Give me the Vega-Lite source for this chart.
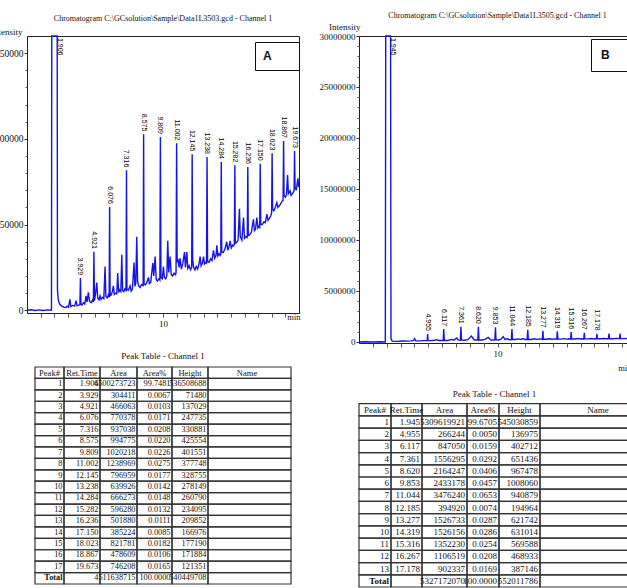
{
  "$schema": "https://vega.github.io/schema/vega-lite/v6.json",
  "background": "white",
  "padding": {"left": -10, "top": 11, "right": 0, "bottom": 0},
  "config": {
    "font": "Liberation Serif",
    "axis": {"labelFont": "Liberation Serif", "titleFont": "Liberation Serif", "labelColor": "#111", "titleColor": "#111"},
    "title": {"font": "Liberation Serif", "fontWeight": "normal", "fontSize": 8, "color": "#111"}
  },
  "datasets": {
    "traceA": [
      {"t":0,"v":0},{"t":0.3,"v":1500},{"t":0.6,"v":-500},{"t":0.9,"v":1000},{"t":1.2,"v":-500},{"t":1.5,"v":1000},{"t":1.8,"v":0},{"t":1.82,"v":2000000},{"t":1.906,"v":536508688,"lab":"1.906"},{"t":2.22,"v":2000000},{"t":2.24,"v":60000},{"t":2.3,"v":30000},{"t":2.4,"v":18000},{"t":2.55,"v":12000},{"t":2.7,"v":9000},{"t":2.85,"v":8000},{"t":2.95,"v":12000},{"t":3.05,"v":9000},{"t":3.16,"v":32000},{"t":3.22,"v":11000},{"t":3.35,"v":14000},{"t":3.5,"v":12000},{"t":3.61,"v":28000},{"t":3.68,"v":13000},{"t":3.8,"v":15000},
      {"t":3.89,"v":16000},{"t":3.929,"v":93700,"lab":"3.929"},{"t":3.97,"v":17000},{"t":4.05,"v":15000},{"t":4.15,"v":22000},{"t":4.25,"v":18000},{"t":4.34,"v":42000},{"t":4.42,"v":24000},{"t":4.51,"v":52000},{"t":4.6,"v":26000},{"t":4.72,"v":22000},{"t":4.82,"v":30000},
      {"t":4.88,"v":24000},{"t":4.921,"v":170400,"lab":"4.921"},{"t":4.96,"v":28000},{"t":5.03,"v":45000},{"t":5.13,"v":81000},{"t":5.2,"v":35000},{"t":5.3,"v":30000},{"t":5.37,"v":42000},{"t":5.45,"v":32000},{"t":5.55,"v":38000},{"t":5.65,"v":34000},{"t":5.74,"v":127600},{"t":5.8,"v":40000},{"t":5.9,"v":36000},{"t":5.98,"v":45000},
      {"t":6.04,"v":38000},{"t":6.076,"v":301500,"lab":"6.076"},{"t":6.11,"v":42000},{"t":6.2,"v":45000},{"t":6.28,"v":55000},{"t":6.35,"v":71000},{"t":6.42,"v":46000},{"t":6.52,"v":50000},{"t":6.6,"v":48000},{"t":6.67,"v":108700},{"t":6.74,"v":52000},{"t":6.82,"v":60000},{"t":6.9,"v":55000},{"t":6.97,"v":161700},{"t":7.03,"v":58000},{"t":7.12,"v":54000},{"t":7.2,"v":62000},
      {"t":7.28,"v":58000},{"t":7.316,"v":408200,"lab":"7.316"},{"t":7.35,"v":60000},{"t":7.45,"v":58000},{"t":7.58,"v":71000},{"t":7.66,"v":56000},{"t":7.75,"v":62000},{"t":7.87,"v":139400},{"t":7.93,"v":70000},{"t":8.0,"v":80000},{"t":8.07,"v":214100},{"t":8.13,"v":85000},{"t":8.22,"v":70000},{"t":8.32,"v":66000},{"t":8.42,"v":75000},
      {"t":8.54,"v":72000},{"t":8.575,"v":513100,"lab":"8.575"},{"t":8.61,"v":76000},{"t":8.7,"v":74000},{"t":8.8,"v":80000},{"t":8.93,"v":95600},{"t":9.0,"v":78000},{"t":9.1,"v":82000},{"t":9.25,"v":137400},{"t":9.32,"v":100000},{"t":9.42,"v":156800},{"t":9.5,"v":90000},{"t":9.6,"v":85000},{"t":9.7,"v":92000},
      {"t":9.77,"v":88000},{"t":9.809,"v":505400,"lab":"9.809"},{"t":9.85,"v":95000},{"t":9.95,"v":92000},{"t":10.03,"v":127600},{"t":10.1,"v":96000},{"t":10.2,"v":92000},{"t":10.28,"v":100000},{"t":10.35,"v":202400},{"t":10.42,"v":110000},{"t":10.52,"v":156800},{"t":10.6,"v":105000},{"t":10.7,"v":100000},{"t":10.82,"v":108000},{"t":10.92,"v":104000},
      {"t":10.96,"v":110000},{"t":11.002,"v":486900,"lab":"11.002"},{"t":11.04,"v":140000},{"t":11.1,"v":150000},{"t":11.18,"v":125000},{"t":11.26,"v":151200},{"t":11.35,"v":120000},{"t":11.45,"v":135000},{"t":11.58,"v":170000},{"t":11.65,"v":125000},{"t":11.75,"v":170000},{"t":11.82,"v":122000},{"t":11.92,"v":130000},{"t":12.02,"v":118000},
      {"t":12.11,"v":125000},{"t":12.145,"v":454900,"lab":"12.145"},{"t":12.18,"v":150000},{"t":12.25,"v":125000},{"t":12.35,"v":118000},{"t":12.45,"v":128000},{"t":12.55,"v":120000},{"t":12.65,"v":135000},{"t":12.73,"v":156800},{"t":12.8,"v":130000},{"t":12.9,"v":138000},{"t":12.98,"v":156800},{"t":13.05,"v":135000},{"t":13.15,"v":140000},
      {"t":13.2,"v":138000},{"t":13.238,"v":447100,"lab":"13.238"},{"t":13.28,"v":142000},{"t":13.38,"v":140000},{"t":13.5,"v":150000},{"t":13.6,"v":145000},{"t":13.71,"v":175000},{"t":13.8,"v":152000},{"t":13.9,"v":160000},{"t":13.96,"v":189600},{"t":14.03,"v":158000},{"t":14.12,"v":165000},{"t":14.2,"v":160000},
      {"t":14.25,"v":165000},{"t":14.284,"v":432500,"lab":"14.284"},{"t":14.32,"v":170000},{"t":14.42,"v":168000},{"t":14.55,"v":178000},{"t":14.69,"v":199700},{"t":14.76,"v":175000},{"t":14.85,"v":185000},{"t":14.94,"v":202400},{"t":15.02,"v":182000},{"t":15.12,"v":190000},{"t":15.2,"v":188000},
      {"t":15.245,"v":192000},{"t":15.282,"v":422800,"lab":"15.282"},{"t":15.32,"v":195000},{"t":15.42,"v":198000},{"t":15.52,"v":205000},{"t":15.62,"v":295700},{"t":15.68,"v":215000},{"t":15.8,"v":205000},{"t":15.92,"v":270400},{"t":15.99,"v":210000},{"t":16.08,"v":215000},{"t":16.18,"v":212000},
      {"t":16.2,"v":214000},{"t":16.236,"v":418000,"lab":"16.236"},{"t":16.27,"v":218000},{"t":16.38,"v":220000},{"t":16.5,"v":228000},{"t":16.65,"v":265500},{"t":16.72,"v":232000},{"t":16.8,"v":236000},{"t":16.9,"v":270400},{"t":16.98,"v":240000},{"t":17.05,"v":245000},
      {"t":17.11,"v":242000},{"t":17.15,"v":427700,"lab":"17.150"},{"t":17.19,"v":250000},{"t":17.3,"v":250000},{"t":17.42,"v":258000},{"t":17.52,"v":255000},{"t":17.64,"v":280100},{"t":17.72,"v":262000},{"t":17.82,"v":268000},{"t":17.92,"v":275000},
      {"t":17.99,"v":285000},{"t":18.023,"v":457800,"lab":"18.023"},{"t":18.06,"v":295000},{"t":18.15,"v":290000},{"t":18.25,"v":300000},{"t":18.37,"v":314100},{"t":18.45,"v":300000},{"t":18.55,"v":305000},{"t":18.65,"v":310000},{"t":18.75,"v":318000},
      {"t":18.83,"v":320000},{"t":18.867,"v":493700,"lab":"18.867"},{"t":18.9,"v":335000},{"t":19.0,"v":330000},{"t":19.08,"v":338000},{"t":19.16,"v":394700},{"t":19.22,"v":340000},{"t":19.35,"v":348100},{"t":19.42,"v":335000},{"t":19.52,"v":340000},{"t":19.6,"v":345000},
      {"t":19.64,"v":350000},{"t":19.673,"v":464600,"lab":"19.673"},{"t":19.71,"v":360000},{"t":19.8,"v":350000},{"t":19.92,"v":385000},{"t":19.97,"v":360000},{"t":20.0,"v":367500}
    ],
    "traceB": [
      {"t":0,"v":0},{"t":0.5,"v":20000},{"t":1.0,"v":0},{"t":1.5,"v":20000},{"t":1.9,"v":0},{"t":1.93,"v":40000000},{"t":1.945,"v":545030859,"lab":"1.945"},{"t":2.28,"v":40000000},{"t":2.31,"v":300000},{"t":2.4,"v":80000},{"t":2.6,"v":60000},{"t":2.9,"v":70000},{"t":3.2,"v":90000},{"t":3.5,"v":80000},{"t":3.75,"v":110000},{"t":3.95,"v":150000},{"t":4.02,"v":325000},{"t":4.1,"v":120000},{"t":4.4,"v":110000},{"t":4.7,"v":130000},
      {"t":4.92,"v":140000},{"t":4.955,"v":780000,"lab":"4.955"},{"t":4.99,"v":150000},{"t":5.2,"v":130000},{"t":5.45,"v":170000},{"t":5.6,"v":230000},{"t":5.75,"v":150000},{"t":5.95,"v":140000},
      {"t":6.08,"v":160000},{"t":6.117,"v":1267000,"lab":"6.117"},{"t":6.16,"v":170000},{"t":6.4,"v":150000},{"t":6.7,"v":250000},{"t":6.85,"v":180000},{"t":7.05,"v":390000},{"t":7.15,"v":200000},
      {"t":7.32,"v":180000},{"t":7.361,"v":1494500,"lab":"7.361"},{"t":7.4,"v":200000},{"t":7.6,"v":170000},{"t":7.85,"v":230000},{"t":8.12,"v":585000},{"t":8.3,"v":220000},{"t":8.45,"v":200000},
      {"t":8.58,"v":210000},{"t":8.62,"v":1494500,"lab":"8.620"},{"t":8.66,"v":220000},{"t":8.9,"v":200000},{"t":9.1,"v":250000},{"t":9.33,"v":455000},{"t":9.5,"v":220000},{"t":9.65,"v":200000},
      {"t":9.81,"v":220000},{"t":9.853,"v":1429600,"lab":"9.853"},{"t":9.89,"v":230000},{"t":10.1,"v":200000},{"t":10.25,"v":280000},{"t":10.41,"v":520000},{"t":10.55,"v":240000},{"t":10.7,"v":330000},{"t":10.85,"v":220000},
      {"t":11.0,"v":230000},{"t":11.044,"v":1267000,"lab":"11.044"},{"t":11.08,"v":260000},{"t":11.3,"v":240000},{"t":11.5,"v":300000},{"t":11.7,"v":250000},{"t":11.85,"v":340000},{"t":12.0,"v":240000},
      {"t":12.14,"v":250000},{"t":12.185,"v":1202000,"lab":"12.185"},{"t":12.22,"v":270000},{"t":12.45,"v":250000},{"t":12.65,"v":320000},{"t":12.85,"v":260000},{"t":13.05,"v":300000},
      {"t":13.24,"v":260000},{"t":13.277,"v":1104700,"lab":"13.277"},{"t":13.31,"v":280000},{"t":13.55,"v":270000},{"t":13.75,"v":320000},{"t":13.95,"v":270000},{"t":14.15,"v":300000},
      {"t":14.28,"v":270000},{"t":14.319,"v":1039700,"lab":"14.319"},{"t":14.36,"v":290000},{"t":14.6,"v":280000},{"t":14.8,"v":330000},{"t":15.0,"v":280000},{"t":15.15,"v":310000},
      {"t":15.28,"v":290000},{"t":15.316,"v":974700,"lab":"15.316"},{"t":15.35,"v":300000},{"t":15.6,"v":290000},{"t":15.8,"v":340000},{"t":16.0,"v":290000},{"t":16.15,"v":320000},
      {"t":16.23,"v":300000},{"t":16.267,"v":909700,"lab":"16.267"},{"t":16.3,"v":310000},{"t":16.55,"v":300000},{"t":16.75,"v":340000},{"t":16.95,"v":300000},{"t":17.08,"v":320000},
      {"t":17.14,"v":310000},{"t":17.178,"v":812000,"lab":"17.178"},{"t":17.21,"v":320000},{"t":17.45,"v":310000},{"t":17.7,"v":340000},{"t":17.9,"v":310000},
      {"t":18.01,"v":320000},{"t":18.05,"v":812000},{"t":18.09,"v":330000},{"t":18.35,"v":320000},{"t":18.6,"v":350000},{"t":18.81,"v":330000},{"t":18.85,"v":812000},{"t":18.89,"v":330000},{"t":19.15,"v":330000},{"t":19.4,"v":350000},{"t":19.56,"v":340000},{"t":19.6,"v":780000},{"t":19.64,"v":340000},{"t":20.0,"v":340000}
    ],
    "tabA": [
      {"p":"1","rt":"1.906","area":"4500273723","pct":"99.7481","ht":"536508688","nm":""},
      {"p":"2","rt":"3.929","area":"304411","pct":"0.0067","ht":"71480","nm":""},
      {"p":"3","rt":"4.921","area":"466063","pct":"0.0103","ht":"137029","nm":""},
      {"p":"4","rt":"6.076","area":"770378","pct":"0.0171","ht":"247735","nm":""},
      {"p":"5","rt":"7.316","area":"937038","pct":"0.0208","ht":"330881","nm":""},
      {"p":"6","rt":"8.575","area":"994775","pct":"0.0220","ht":"425554","nm":""},
      {"p":"7","rt":"9.809","area":"1020218","pct":"0.0226","ht":"401551","nm":""},
      {"p":"8","rt":"11.002","area":"1238969","pct":"0.0275","ht":"377748","nm":""},
      {"p":"9","rt":"12.145","area":"796959","pct":"0.0177","ht":"328755","nm":""},
      {"p":"10","rt":"13.238","area":"639926","pct":"0.0142","ht":"278149","nm":""},
      {"p":"11","rt":"14.284","area":"666273","pct":"0.0148","ht":"260790","nm":""},
      {"p":"12","rt":"15.282","area":"596280","pct":"0.0132","ht":"234095","nm":""},
      {"p":"13","rt":"16.236","area":"501880","pct":"0.0111","ht":"209852","nm":""},
      {"p":"14","rt":"17.150","area":"385224","pct":"0.0085","ht":"166976","nm":""},
      {"p":"15","rt":"18.023","area":"821781","pct":"0.0182","ht":"177190","nm":""},
      {"p":"16","rt":"18.867","area":"478609","pct":"0.0106","ht":"171884","nm":""},
      {"p":"17","rt":"19.673","area":"746208","pct":"0.0165","ht":"121351","nm":""},
      {"p":"Total","rt":"","area":"4511638715","pct":"100.0000","ht":"540449708","nm":""}
    ],
    "tabB": [
      {"p":"1","rt":"1.945","area":"5309619921","pct":"99.6705","ht":"545030859","nm":""},
      {"p":"2","rt":"4.955","area":"266244","pct":"0.0050","ht":"136975","nm":""},
      {"p":"3","rt":"6.117","area":"847050","pct":"0.0159","ht":"402712","nm":""},
      {"p":"4","rt":"7.361","area":"1556295","pct":"0.0292","ht":"651436","nm":""},
      {"p":"5","rt":"8.620","area":"2164247","pct":"0.0406","ht":"967478","nm":""},
      {"p":"6","rt":"9.853","area":"2433178","pct":"0.0457","ht":"1008060","nm":""},
      {"p":"7","rt":"11.044","area":"3476240","pct":"0.0653","ht":"940879","nm":""},
      {"p":"8","rt":"12.185","area":"394920","pct":"0.0074","ht":"194964","nm":""},
      {"p":"9","rt":"13.277","area":"1526733","pct":"0.0287","ht":"621742","nm":""},
      {"p":"10","rt":"14.319","area":"1526156","pct":"0.0286","ht":"631014","nm":""},
      {"p":"11","rt":"15.316","area":"1352230","pct":"0.0254","ht":"569588","nm":""},
      {"p":"12","rt":"16.267","area":"1106519","pct":"0.0208","ht":"468933","nm":""},
      {"p":"13","rt":"17.178","area":"902337","pct":"0.0169","ht":"387146","nm":""},
      {"p":"Total","rt":"","area":"5327172070","pct":"100.0000","ht":"552011786","nm":""}
    ],
    "colsA": [
      {"col":"p","name":"Peak#","start":0,"end":29,"mid":14.5},
      {"col":"rt","name":"Ret.Time","start":29,"end":65,"mid":47},
      {"col":"area","name":"Area","start":65,"end":102,"mid":83.5},
      {"col":"pct","name":"Area%","start":102,"end":137,"mid":119.5},
      {"col":"ht","name":"Height","start":137,"end":173,"mid":155},
      {"col":"nm","name":"Name","start":173,"end":256,"mid":212}
    ],
    "colsB": [
      {"col":"p","name":"Peak#","start":0,"end":32,"mid":16},
      {"col":"rt","name":"Ret.Time","start":32,"end":63,"mid":47.5},
      {"col":"area","name":"Area","start":63,"end":108,"mid":85.5},
      {"col":"pct","name":"Area%","start":108,"end":140,"mid":124},
      {"col":"ht","name":"Height","start":140,"end":181,"mid":160.5},
      {"col":"nm","name":"Name","start":181,"end":271,"mid":239}
    ]
  },
  "concat": [
    {
      "width": 272, "height": 277,
      "title": {"text": "Chromatogram C:\\GCsolution\\Sample\\Data1L3503.gcd - Channel 1", "offset": 4},
      "view": {"stroke": "#222", "strokeWidth": 1},
      "data": {"name": "traceA"},
      "layer": [
        {
          "mark": {"type": "line", "strokeWidth": 1.4},
          "encoding": {
            "x": {"field": "t", "type": "quantitative", "scale": {"domain": [0, 20], "nice": false, "zero": false},
              "axis": {"orient": "bottom", "values": [10], "grid": false, "tickSize": 4, "tickColor": "#555", "domainColor": "#222", "labelFontSize": 9, "labelPadding": 2, "title": "min", "titleX": 273, "titleY": 3, "titleAlign": "right", "titleBaseline": "middle", "titleFontWeight": "normal", "titleFontSize": 8.5}},
            "y": {"field": "v", "type": "quantitative", "scale": {"domain": [-8000, 800000], "nice": false, "zero": false, "clamp": true},
              "axis": {"orient": "left", "values": [0, 250000, 500000, 750000], "format": "d", "grid": false, "tickSize": 3, "tickColor": "#333", "domainColor": "#222", "labelFontSize": 9.5, "labelPadding": 1, "title": "Intensity", "titleAngle": 0, "titleX": -5, "titleY": -5, "titleAlign": "right", "titleBaseline": "middle", "titleFontWeight": "normal", "titleFontSize": 9}},
            "color": {"datum": "A", "type": "nominal", "scale": {"range": ["#1414e6"]},
              "legend": {"title": "A", "titleOrient": "left", "titleFont": "Liberation Sans", "titleFontWeight": "bold", "titleFontSize": 12, "titleColor": "#111", "titlePadding": 3, "labelExpr": "''", "labelFontSize": 12, "symbolSize": 100, "symbolOpacity": 0, "symbolStrokeWidth": 0, "orient": "none", "legendX": 228, "legendY": 6, "strokeColor": "#111", "fillColor": "white", "padding": 8}}
          }
        },
        {
          "transform": [{"filter": "isValid(datum.lab) && datum.v < 800000"}],
          "mark": {"type": "text", "angle": 90, "align": "right", "baseline": "middle", "dx": -3, "font": "Liberation Sans", "fontSize": 7, "color": "#000"},
          "encoding": {
            "x": {"field": "t", "type": "quantitative", "axis": {"orient": "bottom", "values": [1,2,3,4,5,6,7,8,9,11,12,13,14,15,16,17,18,19], "labels": false, "tickSize": 4, "tickColor": "#555", "domain": false, "grid": false, "title": null}},
            "y": {"field": "v", "type": "quantitative", "axis": {"orient": "left", "values": [50000,100000,150000,200000,300000,350000,400000,450000,550000,600000,650000,700000], "labels": false, "tickSize": 2, "tickColor": "#555", "domain": false, "grid": false, "title": null}},
            "text": {"field": "lab"}
          }
        },
        {
          "transform": [{"filter": "isValid(datum.lab) && datum.v >= 800000"}],
          "mark": {"type": "text", "angle": 90, "align": "left", "baseline": "middle", "dx": 2, "dy": -7, "font": "Liberation Sans", "fontSize": 7, "color": "#000"},
          "encoding": {
            "x": {"field": "t", "type": "quantitative", "axis": null},
            "y": {"field": "v", "type": "quantitative", "axis": null},
            "text": {"field": "lab"}
          }
        }
      ],
      "resolve": {"axis": {"x": "independent", "y": "independent"}}
    },
    {
      "width": 277, "height": 307,
      "title": {"text": "Chromatogram C:\\GCsolution\\Sample\\Data1L3505.gcd - Channel 1", "offset": 2},
      "view": {"stroke": "#222", "strokeWidth": 1},
      "data": {"name": "traceB"},
      "layer": [
        {
          "mark": {"type": "line", "strokeWidth": 1.4},
          "encoding": {
            "x": {"field": "t", "type": "quantitative", "scale": {"domain": [0, 20], "nice": false, "zero": false},
              "axis": {"orient": "bottom", "values": [10], "grid": false, "tickSize": 4, "tickColor": "#555", "domainColor": "#222", "labelFontSize": 9, "labelPadding": 2, "title": "min", "titleX": 272, "titleY": 24, "titleAlign": "right", "titleBaseline": "middle", "titleFontWeight": "normal", "titleFontSize": 8.5}},
            "y": {"field": "v", "type": "quantitative", "scale": {"domain": [-100000, 30000000], "nice": false, "zero": false, "clamp": true},
              "axis": {"orient": "left", "values": [0, 5000000, 10000000, 15000000, 20000000, 25000000, 30000000], "format": "d", "grid": false, "tickSize": 3, "tickColor": "#333", "domainColor": "#222", "labelFontSize": 9, "labelPadding": 1, "title": "Intensity", "titleAngle": 0, "titleX": 1, "titleY": -10, "titleAlign": "right", "titleBaseline": "middle", "titleFontWeight": "normal", "titleFontSize": 9}},
            "color": {"datum": "B", "type": "nominal", "scale": {"range": ["#1414e6"]},
              "legend": {"title": "B", "titleOrient": "left", "titleFont": "Liberation Sans", "titleFontWeight": "bold", "titleFontSize": 12, "titleColor": "#111", "titlePadding": 3, "labelExpr": "''", "labelFontSize": 12, "symbolSize": 100, "symbolOpacity": 0, "symbolStrokeWidth": 0, "orient": "none", "legendX": 232, "legendY": 3, "strokeColor": "#111", "fillColor": "white", "padding": 10}}
          }
        },
        {
          "transform": [{"filter": "isValid(datum.lab) && datum.v < 30000000"}],
          "mark": {"type": "text", "angle": 90, "align": "right", "baseline": "middle", "dx": -3, "font": "Liberation Sans", "fontSize": 7, "color": "#000"},
          "encoding": {
            "x": {"field": "t", "type": "quantitative", "axis": {"orient": "bottom", "values": [1,2,3,4,5,6,7,8,9,11,12,13,14,15,16,17,18,19], "labels": false, "tickSize": 4, "tickColor": "#555", "domain": false, "grid": false, "title": null}},
            "y": {"field": "v", "type": "quantitative", "axis": {"orient": "left", "values": [1000000,2000000,3000000,4000000,6000000,7000000,8000000,9000000,11000000,12000000,13000000,14000000,16000000,17000000,18000000,19000000,21000000,22000000,23000000,24000000,26000000,27000000,28000000,29000000], "labels": false, "tickSize": 2, "tickColor": "#555", "domain": false, "grid": false, "title": null}},
            "text": {"field": "lab"}
          }
        },
        {
          "transform": [{"filter": "isValid(datum.lab) && datum.v >= 30000000"}],
          "mark": {"type": "text", "angle": 90, "align": "left", "baseline": "middle", "dx": 2, "dy": -7, "font": "Liberation Sans", "fontSize": 7, "color": "#000"},
          "encoding": {
            "x": {"field": "t", "type": "quantitative", "axis": null},
            "y": {"field": "v", "type": "quantitative", "axis": null},
            "text": {"field": "lab"}
          }
        }
      ],
      "resolve": {"axis": {"x": "independent", "y": "independent"}}
    },
    {
      "width": 256, "height": 217,
      "title": {"text": "Peak Table - Channel 1", "fontSize": 9, "offset": 5},
      "view": {"stroke": null},
      "layer": [
        {
          "data": {"name": "colsA"},
          "mark": {"type": "rect", "fillOpacity": 0, "stroke": "#333", "strokeWidth": 1.2},
          "encoding": {
            "x": {"field": "start", "type": "quantitative", "scale": {"domain": [0, 256], "nice": false, "zero": false}, "axis": null},
            "x2": {"field": "end"},
            "y": {"datum": "hdr", "type": "nominal", "scale": {"type": "band", "domain": ["hdr","1","2","3","4","5","6","7","8","9","10","11","12","13","14","15","16","17","Total"], "paddingInner": 0, "paddingOuter": 0}, "axis": null}
          }
        },
        {
          "data": {"name": "tabA"},
          "transform": [
            {"fold": ["p", "rt", "area", "pct", "ht", "nm"], "as": ["col", "val"]},
            {"lookup": "col", "from": {"data": {"name": "colsA"}, "key": "col", "fields": ["start", "end"]}}
          ],
          "mark": {"type": "rect", "fillOpacity": 0, "stroke": "#333", "strokeWidth": 1.2},
          "encoding": {
            "x": {"field": "start", "type": "quantitative"},
            "x2": {"field": "end"},
            "y": {"field": "p", "type": "nominal"}
          }
        },
        {
          "data": {"name": "colsA"},
          "mark": {"type": "text", "align": "center", "baseline": "middle", "fontSize": 8.5, "color": "#111"},
          "encoding": {
            "x": {"field": "mid", "type": "quantitative"},
            "y": {"datum": "hdr", "type": "nominal"},
            "text": {"field": "name"}
          }
        },
        {
          "data": {"name": "tabA"},
          "transform": [
            {"fold": ["p", "rt", "area", "pct", "ht", "nm"], "as": ["col", "val"]},
            {"lookup": "col", "from": {"data": {"name": "colsA"}, "key": "col", "fields": ["end"]}}
          ],
          "mark": {"type": "text", "align": "right", "baseline": "middle", "dx": -1.5, "fontSize": 8.3, "color": "#111", "fontWeight": {"expr": "datum.val == 'Total' ? 'bold' : 'normal'"}},
          "encoding": {
            "x": {"field": "end", "type": "quantitative"},
            "y": {"field": "p", "type": "nominal"},
            "text": {"field": "val"}
          }
        }
      ]
    },
    {
      "width": 271, "height": 220,
      "title": {"text": "Peak Table - Channel 1", "fontSize": 9, "offset": 0, "dy": 32},
      "view": {"stroke": null},
      "layer": [
        {
          "data": {"name": "colsB"},
          "mark": {"type": "rect", "fillOpacity": 0, "stroke": "#333", "strokeWidth": 1.2},
          "encoding": {
            "x": {"field": "start", "type": "quantitative", "scale": {"domain": [0, 271], "nice": false, "zero": false}, "axis": null},
            "x2": {"field": "end"},
            "y": {"datum": "hdr", "type": "nominal", "scale": {"type": "band", "domain": ["g1","g2","g3","hdr","1","2","3","4","5","6","7","8","9","10","11","12","13","Total"], "paddingInner": 0, "paddingOuter": 0}, "axis": null}
          }
        },
        {
          "data": {"name": "tabB"},
          "transform": [
            {"fold": ["p", "rt", "area", "pct", "ht", "nm"], "as": ["col", "val"]},
            {"lookup": "col", "from": {"data": {"name": "colsB"}, "key": "col", "fields": ["start", "end"]}}
          ],
          "mark": {"type": "rect", "fillOpacity": 0, "stroke": "#333", "strokeWidth": 1.2},
          "encoding": {
            "x": {"field": "start", "type": "quantitative"},
            "x2": {"field": "end"},
            "y": {"field": "p", "type": "nominal"}
          }
        },
        {
          "data": {"name": "colsB"},
          "mark": {"type": "text", "align": "center", "baseline": "middle", "fontSize": 9, "color": "#111"},
          "encoding": {
            "x": {"field": "mid", "type": "quantitative"},
            "y": {"datum": "hdr", "type": "nominal"},
            "text": {"field": "name"}
          }
        },
        {
          "data": {"name": "tabB"},
          "transform": [
            {"fold": ["p", "rt", "area", "pct", "ht", "nm"], "as": ["col", "val"]},
            {"lookup": "col", "from": {"data": {"name": "colsB"}, "key": "col", "fields": ["end"]}}
          ],
          "mark": {"type": "text", "align": "right", "baseline": "middle", "dx": -2, "fontSize": 9, "color": "#111", "fontWeight": {"expr": "datum.val == 'Total' ? 'bold' : 'normal'"}},
          "encoding": {
            "x": {"field": "end", "type": "quantitative"},
            "y": {"field": "p", "type": "nominal"},
            "text": {"field": "val"}
          }
        }
      ]
    }
  ],
  "columns": 2,
  "spacing": {"row": 24, "column": 60},
  "bounds": "flush",
  "align": "each",
  "center": {"row": false, "column": true},
  "resolve": {"scale": {"color": "independent"}, "legend": {"color": "independent"}}
}
